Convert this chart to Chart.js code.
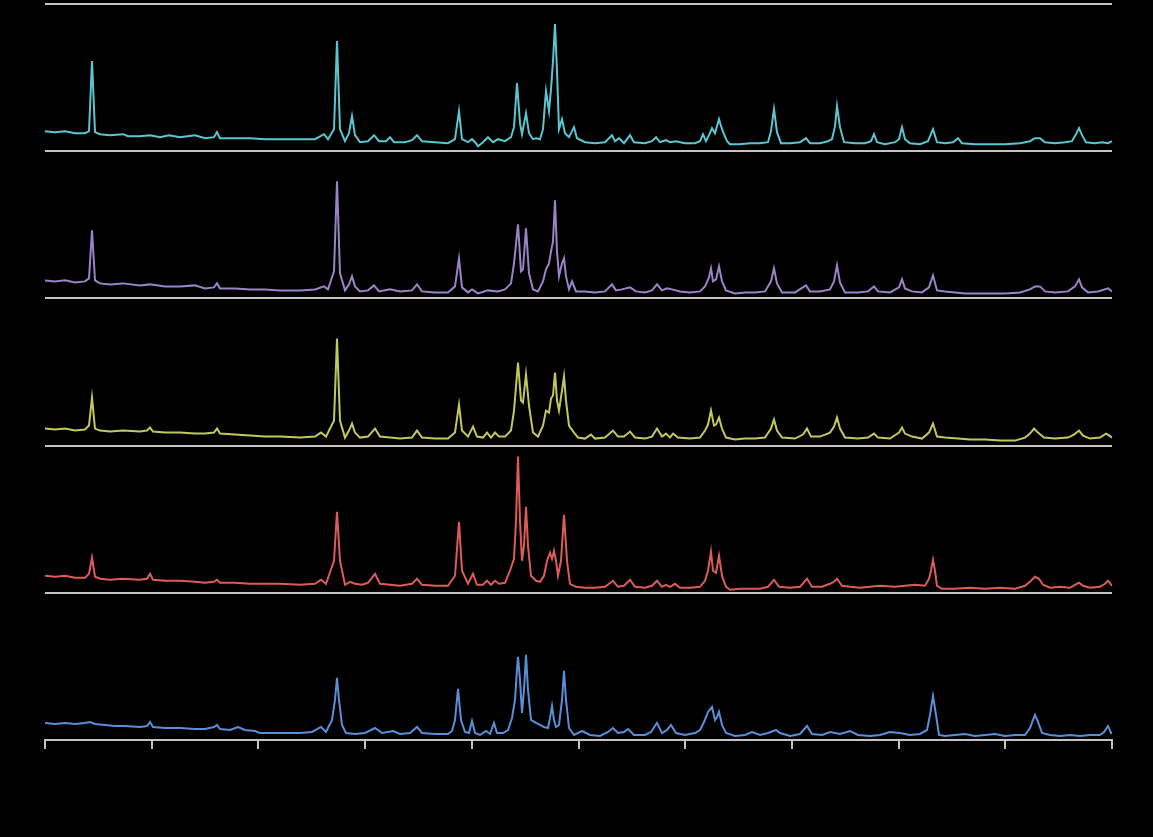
<!DOCTYPE html>
<html>
<head>
<meta charset="utf-8">
<script src="https://cdn.jsdelivr.net/npm/chart.js@4.4.1/dist/chart.umd.min.js"></script>
<style>
  html, body { margin: 0; padding: 0; background: #000; }
  #wrap { width: 1153px; height: 837px; }
</style>
</head>
<body>
<div id="wrap"><canvas id="c" width="1153" height="837"></canvas></div>
<script>
// Diffraction patterns of five samples: [detector channel, intensity (a.u.)]
const sampleA = [[0,20],[10,19],[20,20],[30,18],[40,18],[44,20],[47,90],[50,19],[55,17],[65,16],[78,17],[83,15],[95,15],[105,16],[115,14],[124,16],[135,14],[150,16],[160,13],[169,14],[172,19],[175,13],[190,13],[205,13],[220,12],[235,12],[255,12],[270,12],[279,17],[283,12],[289,22],[292,110],[295,22],[300,10],[304,18],[307,35],[310,16],[315,9],[323,10],[329,16],[334,10],[341,10],[345,14],[349,9],[360,9],[367,11],[372,16],[377,10],[390,9],[403,8],[410,12],[414,40],[417,12],[423,9],[427,12],[431,8],[433,5],[438,9],[443,14],[448,9],[453,12],[460,10],[466,14],[469,24],[472,68],[475,28],[477,17],[481,38],[484,18],[488,12],[491,13],[495,12],[498,22],[501,60],[504,40],[506,62],[508,90],[510,127],[512,80],[514,22],[517,32],[520,18],[524,14],[529,24],[532,13],[540,9],[550,8],[560,9],[567,16],[570,10],[574,13],[579,8],[585,16],[589,9],[600,8],[607,10],[611,14],[615,9],[621,11],[625,9],[631,10],[640,8],[650,8],[655,10],[658,17],[661,10],[664,16],[667,23],[670,18],[674,32],[677,22],[679,17],[682,10],[685,7],[695,7],[705,8],[715,8],[723,9],[726,20],[729,42],[732,19],[736,8],[745,8],[755,9],[761,13],[765,8],[775,8],[783,10],[787,12],[790,25],[792,45],[795,24],[799,9],[810,8],[820,8],[826,10],[829,17],[832,9],[840,7],[850,9],[854,12],[857,24],[860,12],[865,8],[875,7],[883,10],[888,22],[892,9],[900,8],[908,9],[913,13],[917,8],[930,7],[945,7],[960,7],[975,8],[985,10],[990,13],[995,13],[1000,9],[1010,8],[1020,9],[1027,10],[1031,17],[1034,23],[1037,16],[1041,9],[1050,8],[1057,9],[1063,8],[1067,10]];

const sampleB = [[0,18],[10,17],[20,18],[30,16],[40,17],[44,20],[47,68],[50,18],[55,15],[65,14],[78,15],[95,13],[105,14],[120,12],[135,12],[150,13],[160,10],[169,11],[172,15],[175,10],[190,10],[205,9],[220,9],[235,8],[255,8],[270,9],[279,12],[283,9],[289,27],[292,117],[295,25],[300,8],[304,14],[307,22],[310,12],[315,7],[323,8],[329,13],[334,7],[345,9],[355,7],[367,8],[372,14],[377,7],[390,6],[403,6],[410,12],[414,40],[417,11],[423,6],[427,9],[433,5],[443,8],[453,7],[460,9],[466,15],[469,35],[473,74],[476,27],[478,29],[481,70],[484,25],[488,9],[493,7],[498,17],[501,29],[504,35],[506,47],[508,57],[510,98],[512,47],[514,22],[517,35],[519,40],[521,22],[524,9],[527,17],[531,7],[540,7],[550,6],[560,7],[567,14],[571,8],[577,9],[585,11],[591,7],[600,6],[607,8],[612,14],[617,8],[622,10],[627,9],[635,7],[645,6],[655,7],[660,12],[664,21],[666,30],[668,17],[671,19],[674,32],[677,17],[681,8],[690,5],[700,6],[710,6],[720,7],[726,17],[729,30],[732,15],[737,6],[750,6],[761,13],[765,7],[775,7],[785,9],[789,17],[792,33],[795,16],[800,6],[813,6],[823,7],[829,12],[833,7],[845,6],[854,11],[857,19],[860,10],[867,7],[877,6],[884,11],[888,23],[892,8],[900,7],[910,6],[920,5],[940,5],[960,5],[975,6],[985,9],[990,12],[995,12],[1000,7],[1010,6],[1023,7],[1030,12],[1034,19],[1037,11],[1043,6],[1053,7],[1063,10],[1067,7]];

const sampleC = [[0,17],[10,16],[20,17],[30,15],[40,16],[44,20],[47,48],[50,17],[55,15],[65,14],[78,15],[95,14],[102,15],[105,18],[108,14],[120,13],[135,13],[150,12],[160,12],[169,13],[172,17],[175,12],[190,11],[205,10],[220,9],[235,9],[255,8],[270,9],[276,13],[281,9],[289,25],[292,107],[295,25],[300,8],[304,15],[307,22],[310,13],[315,8],[323,9],[330,17],[335,9],[345,8],[355,7],[367,8],[372,15],[377,8],[390,7],[403,7],[410,13],[414,41],[417,15],[423,9],[428,19],[432,9],[438,8],[442,13],[446,8],[450,13],[454,9],[460,9],[466,15],[469,35],[473,83],[476,45],[478,43],[481,71],[484,40],[488,13],[493,9],[498,20],[501,35],[504,33],[506,47],[508,50],[510,73],[512,45],[514,35],[517,55],[519,69],[521,45],[524,20],[529,13],[533,8],[540,7],[546,11],[550,7],[560,8],[568,15],[573,9],[579,9],[585,14],[590,8],[600,7],[607,9],[612,17],[617,9],[621,12],[625,8],[628,12],[633,8],[645,7],[655,8],[660,15],[663,21],[666,35],[669,20],[671,21],[674,28],[677,17],[681,8],[690,6],[700,7],[710,7],[720,8],[726,17],[729,26],[732,15],[737,8],[750,7],[758,11],[762,17],[766,9],[775,9],[785,13],[789,19],[792,28],[795,17],[800,8],[813,7],[823,8],[829,12],[833,8],[845,7],[854,13],[857,18],[860,12],[867,9],[877,7],[884,13],[888,22],[892,9],[900,8],[913,7],[925,6],[940,6],[955,5],[970,5],[980,8],[985,12],[989,17],[993,13],[999,8],[1010,7],[1023,8],[1029,11],[1034,15],[1038,10],[1045,7],[1055,8],[1061,12],[1063,11],[1067,8]];

const sampleD = [[0,17],[10,16],[20,17],[30,15],[40,15],[44,19],[47,35],[50,16],[55,14],[65,13],[78,14],[95,13],[102,14],[105,19],[108,13],[120,12],[135,12],[150,11],[160,10],[169,11],[172,13],[175,10],[190,10],[205,9],[220,9],[235,9],[255,8],[270,9],[276,13],[281,9],[289,32],[292,81],[295,32],[300,8],[305,11],[310,9],[317,8],[323,10],[330,19],[335,9],[345,8],[355,7],[367,9],[372,14],[377,8],[390,7],[403,7],[410,17],[414,71],[417,22],[423,9],[428,19],[432,8],[438,8],[442,12],[446,8],[450,12],[454,9],[460,10],[465,22],[469,34],[471,72],[473,136],[475,72],[477,32],[479,47],[481,86],[483,47],[486,17],[491,12],[495,11],[499,17],[502,32],[505,40],[507,34],[509,42],[511,32],[513,17],[516,32],[519,78],[522,32],[525,9],[531,6],[540,5],[550,5],[560,6],[568,12],[573,6],[579,7],[585,13],[590,6],[600,5],[607,7],[612,12],[617,6],[621,8],[625,6],[630,9],[635,5],[645,5],[655,6],[660,12],[663,22],[666,41],[668,22],[671,20],[674,37],[677,17],[681,6],[685,3],[695,4],[705,4],[715,4],[723,6],[729,13],[734,6],[745,5],[755,6],[762,14],[767,6],[777,6],[785,9],[789,11],[792,14],[797,7],[805,6],[815,5],[825,6],[835,7],[850,6],[860,7],[870,8],[880,7],[884,14],[886,22],[888,33],[890,22],[892,7],[897,4],[910,4],[925,5],[940,4],[955,5],[970,4],[980,7],[986,12],[990,16],[994,14],[998,8],[1005,5],[1015,6],[1025,5],[1030,8],[1034,10],[1038,7],[1045,5],[1055,6],[1060,9],[1063,12],[1067,7]];

const sampleE = [[0,17],[10,16],[20,17],[30,16],[40,17],[45,18],[50,16],[60,15],[70,14],[80,14],[95,13],[102,14],[105,18],[108,13],[120,12],[135,12],[150,11],[160,11],[169,13],[172,15],[175,11],[185,10],[193,13],[200,10],[210,9],[215,7],[225,7],[240,7],[255,7],[267,8],[276,13],[281,8],[287,20],[290,40],[292,62],[294,40],[297,15],[301,7],[310,6],[320,7],[330,12],[337,7],[348,9],[355,6],[365,7],[372,13],[377,7],[390,6],[403,6],[407,9],[410,20],[413,51],[416,20],[420,8],[424,7],[427,19],[430,7],[435,5],[441,9],[445,6],[449,17],[452,7],[458,7],[463,10],[467,22],[470,40],[472,70],[473,83],[475,60],[477,27],[479,50],[481,85],[483,50],[486,20],[491,17],[495,15],[499,13],[503,12],[505,22],[507,34],[509,20],[511,13],[514,15],[517,40],[519,69],[521,40],[524,12],[529,5],[537,9],[545,5],[555,4],[563,8],[568,12],[573,7],[579,8],[583,11],[589,5],[600,5],[606,8],[612,17],[617,7],[622,10],[626,15],[631,7],[640,5],[650,7],[655,10],[659,18],[663,28],[667,33],[670,20],[672,23],[674,28],[677,15],[681,7],[690,4],[700,5],[707,8],[715,5],[723,7],[731,10],[735,7],[745,4],[755,6],[762,14],[767,6],[777,5],[785,8],[795,6],[805,9],[813,5],[825,4],[835,5],[845,8],[855,7],[865,5],[875,6],[882,10],[885,25],[888,44],[891,25],[894,5],[900,4],[910,5],[920,6],[930,4],[940,5],[950,6],[960,4],[970,5],[980,5],[985,12],[988,20],[990,25],[993,18],[997,7],[1005,5],[1015,4],[1025,5],[1035,4],[1045,5],[1055,5],[1059,8],[1063,14],[1066,7],[1067,8]];

const sampleNames = ['Sample A', 'Sample B', 'Sample C', 'Sample D', 'Sample E'];
const lineColors = ['#5cc6d0', '#9884c6', '#c0ca5c', '#dc5c58', '#5a8ed8'];
const xTickChannels = [0, 106.7, 213.4, 320.1, 426.8, 533.5, 640.2, 746.9, 853.6, 960.3, 1067];

// each pattern sits in its own horizontal band, top to bottom
const BAND = 147;
const samples = [sampleA, sampleB, sampleC, sampleD, sampleE];
const bandBase = samples.map((_, i) => (samples.length - 1 - i) * BAND);
const bandEdges = samples.map((_, i) => i * BAND).concat([samples.length * BAND]);

const datasets = samples.map((s, i) => ({
  label: sampleNames[i],
  data: s.map(([ch, inten]) => ({ x: ch, y: inten + bandBase[i] })),
  borderColor: lineColors[i],
  borderWidth: 2,
  pointRadius: 0,
  tension: 0,
  fill: false
}));

const gridGrey = '#c4c4c4';

new Chart(document.getElementById('c'), {
  type: 'line',
  data: { datasets },
  options: {
    responsive: false,
    animation: false,
    events: [],
    layout: { padding: { left: 45, right: 41, top: 4, bottom: 88 } },
    plugins: { legend: { display: false }, tooltip: { enabled: false } },
    scales: {
      x: {
        type: 'linear',
        min: 0,
        max: 1067,
        afterBuildTicks: (scale) => { scale.ticks = xTickChannels.map(v => ({ value: v })); },
        ticks: { display: false },
        grid: { drawOnChartArea: false, drawTicks: true, tickLength: 9, color: gridGrey, lineWidth: 2 },
        border: { color: gridGrey, width: 2 }
      },
      y: {
        min: 0,
        max: samples.length * BAND,
        afterBuildTicks: (scale) => { scale.ticks = bandEdges.map(v => ({ value: v })); },
        ticks: { display: false },
        grid: { drawTicks: false, color: gridGrey, lineWidth: 2 },
        border: { display: false }
      }
    }
  }
});
</script>
</body>
</html>
